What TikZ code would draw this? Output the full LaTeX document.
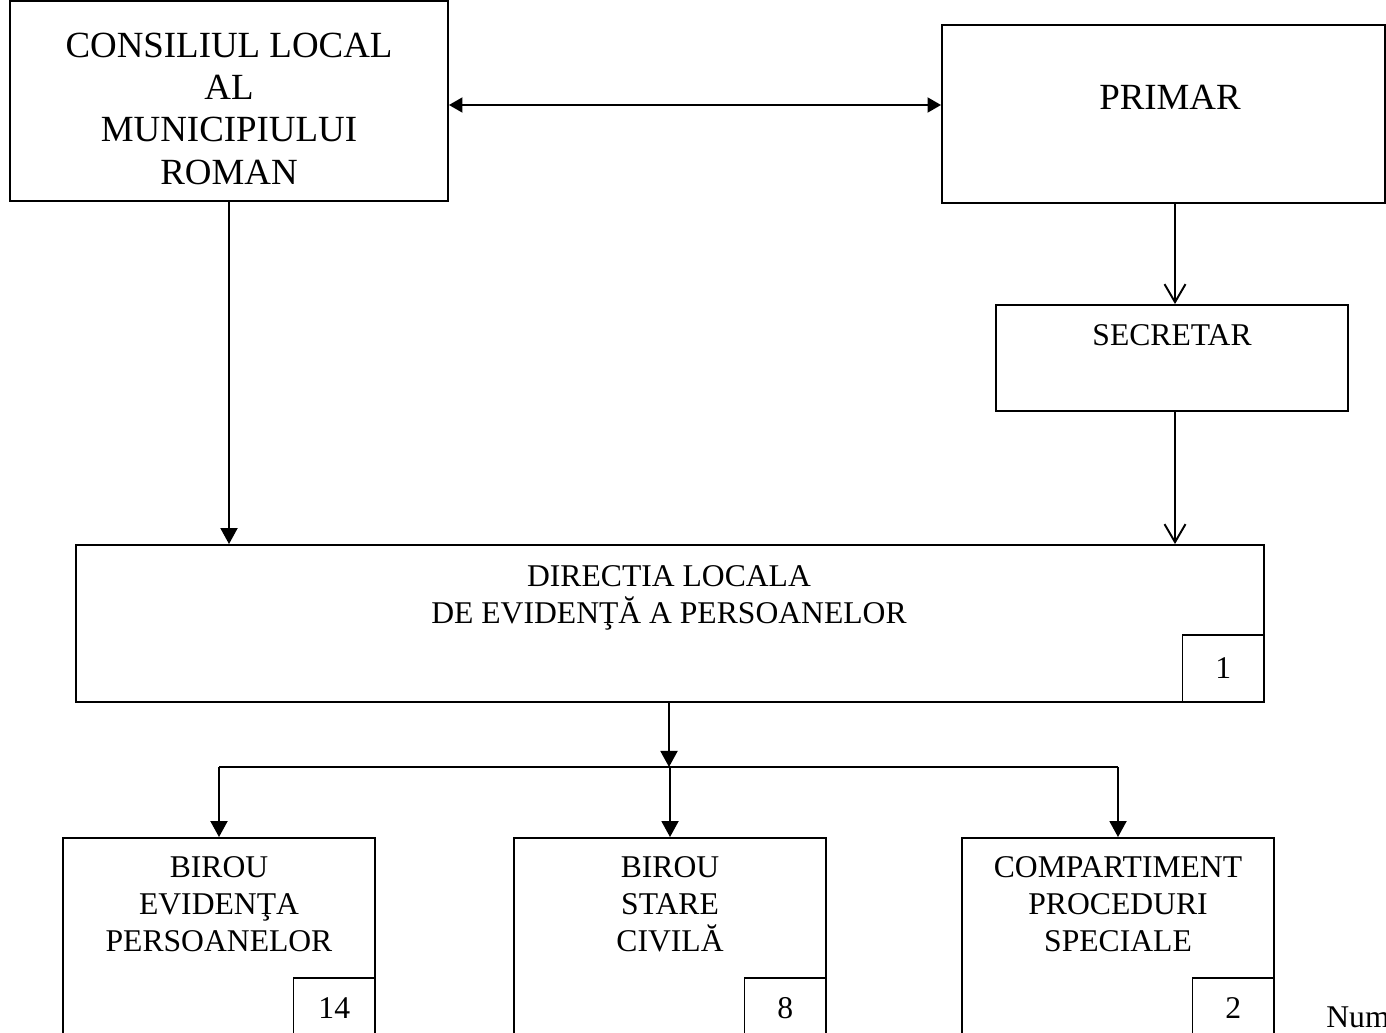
\documentclass[tikz,border=0pt]{standalone}
\usepackage{fontspec}
\setmainfont{Liberation Serif}
\usetikzlibrary{calc, arrows.meta}

\tikzset{
  box/.style = {draw, line width=1.1pt, inner sep=0pt},
  numbox/.style = {draw, line width=1.1pt, inner sep=0pt,
    minimum width=1.63cm, minimum height=1.2cm, anchor=south east,
    font=\fontsize{18}{21}\selectfont},
  bigtext/.style = {align=center, inner sep=0pt, font=\fontsize{21}{24.1}\selectfont},
  smalltext/.style = {align=center, inner sep=0pt, font=\fontsize{18}{21}\selectfont},
  conn/.style = {line width=1.1pt},
  fullarrow/.style = {conn, -{Triangle[length=0.32cm, width=0.34cm]}},
  bothways/.style = {conn, {Triangle[length=0.27cm, width=0.3cm]}-{Triangle[length=0.27cm, width=0.3cm]}},
  openarrow/.style = {conn, -{Straight Barb[length=0.36cm, width=0.42cm, line width=1.1pt]}}
}

\begin{document}
\begin{tikzpicture}
    \useasboundingbox (0,0) rectangle (27.72,-20.64);

    % upper level
    \node[
    box,
    minimum width = 8.76cm,
    minimum height = 4cm
    ] (consiliu) at (4.58,-2.02){};
    \node[bigtext] (consiliutxt) at ($(consiliu)+(0,-0.15)$)
      {CONSILIUL LOCAL\\AL\\MUNICIPIULUI\\ROMAN};
    \node[
    box,
    minimum width = 8.86cm,
    minimum height = 3.56cm
    ] (primar) at (23.27,-2.28){};
    \node[bigtext] (primartxt) at (23.40,-1.94){PRIMAR};
    \node[
    box,
    minimum width = 7.04cm,
    minimum height = 2.12cm
    ] (secretar) at (23.44,-7.16){};
    \node[smalltext] (secretartxt) at ($(secretar.north)+(0,-0.62)$){SECRETAR};

    % directia
    \node[
    box,
    minimum width = 23.76cm,
    minimum height = 3.14cm
    ] (directia) at (13.40,-12.47){};
    \node[smalltext, text depth=0pt] (directiatxt) at (13.38,-11.89)
      {DIRECTIA LOCALA\\DE EVIDENŢĂ A PERSOANELOR};
    \node[numbox, minimum height=1.34cm] (nrdirectia) at (directia.south east){1};

    % compartimente
    \foreach \name/\x/\txt/\nr in {birouep/4.38/{BIROU\\EVIDENŢA\\PERSOANELOR}/14,
                                  birousc/13.40/{BIROU\\STARE\\CIVILĂ}/8,
                                  compps/22.36/{COMPARTIMENT\\PROCEDURI\\SPECIALE}/2}{
      \node[
      box,
      minimum width = 6.24cm,
      minimum height = 4cm
      ] (\name) at (\x,-18.76){};
      \node[smalltext] (\name txt) at ($(\name.north)+(0,-1.35)$){\txt};
      \node[numbox] (nr\name) at (\name.south east){\nr};
    }
    \node[smalltext, anchor=west] (nota) at (26.52,-20.34){Num};

    % legaturi
    \coordinate (dblA) at ($(consiliu.east)+(0,-0.08)$);
    \coordinate (dblB) at (dblA -| primar.west);
    \draw[bothways] (dblA) -- (dblB);
    \draw[fullarrow] (consiliu.south) -- (consiliu.south |- directia.north);
    \coordinate (secN) at ($(secretar.north)+(0.06,0)$);
    \coordinate (secS) at ($(secretar.south)+(0.06,0)$);
    \draw[openarrow] (secN |- primar.south) -- (secN);
    \draw[openarrow] (secS) -- (secS |- directia.north);
    \coordinate (bus) at ($(directia.south)+(-0.02,-1.28)$);
    \draw[fullarrow] (directia.south -| bus) -- (bus);
    \draw[conn] (bus -| birouep.north) -- (bus -| compps.north);
    \foreach \name in {birouep, birousc, compps}
      \draw[fullarrow] (bus -| \name.north) -- (\name.north);
\end{tikzpicture}
\end{document}
